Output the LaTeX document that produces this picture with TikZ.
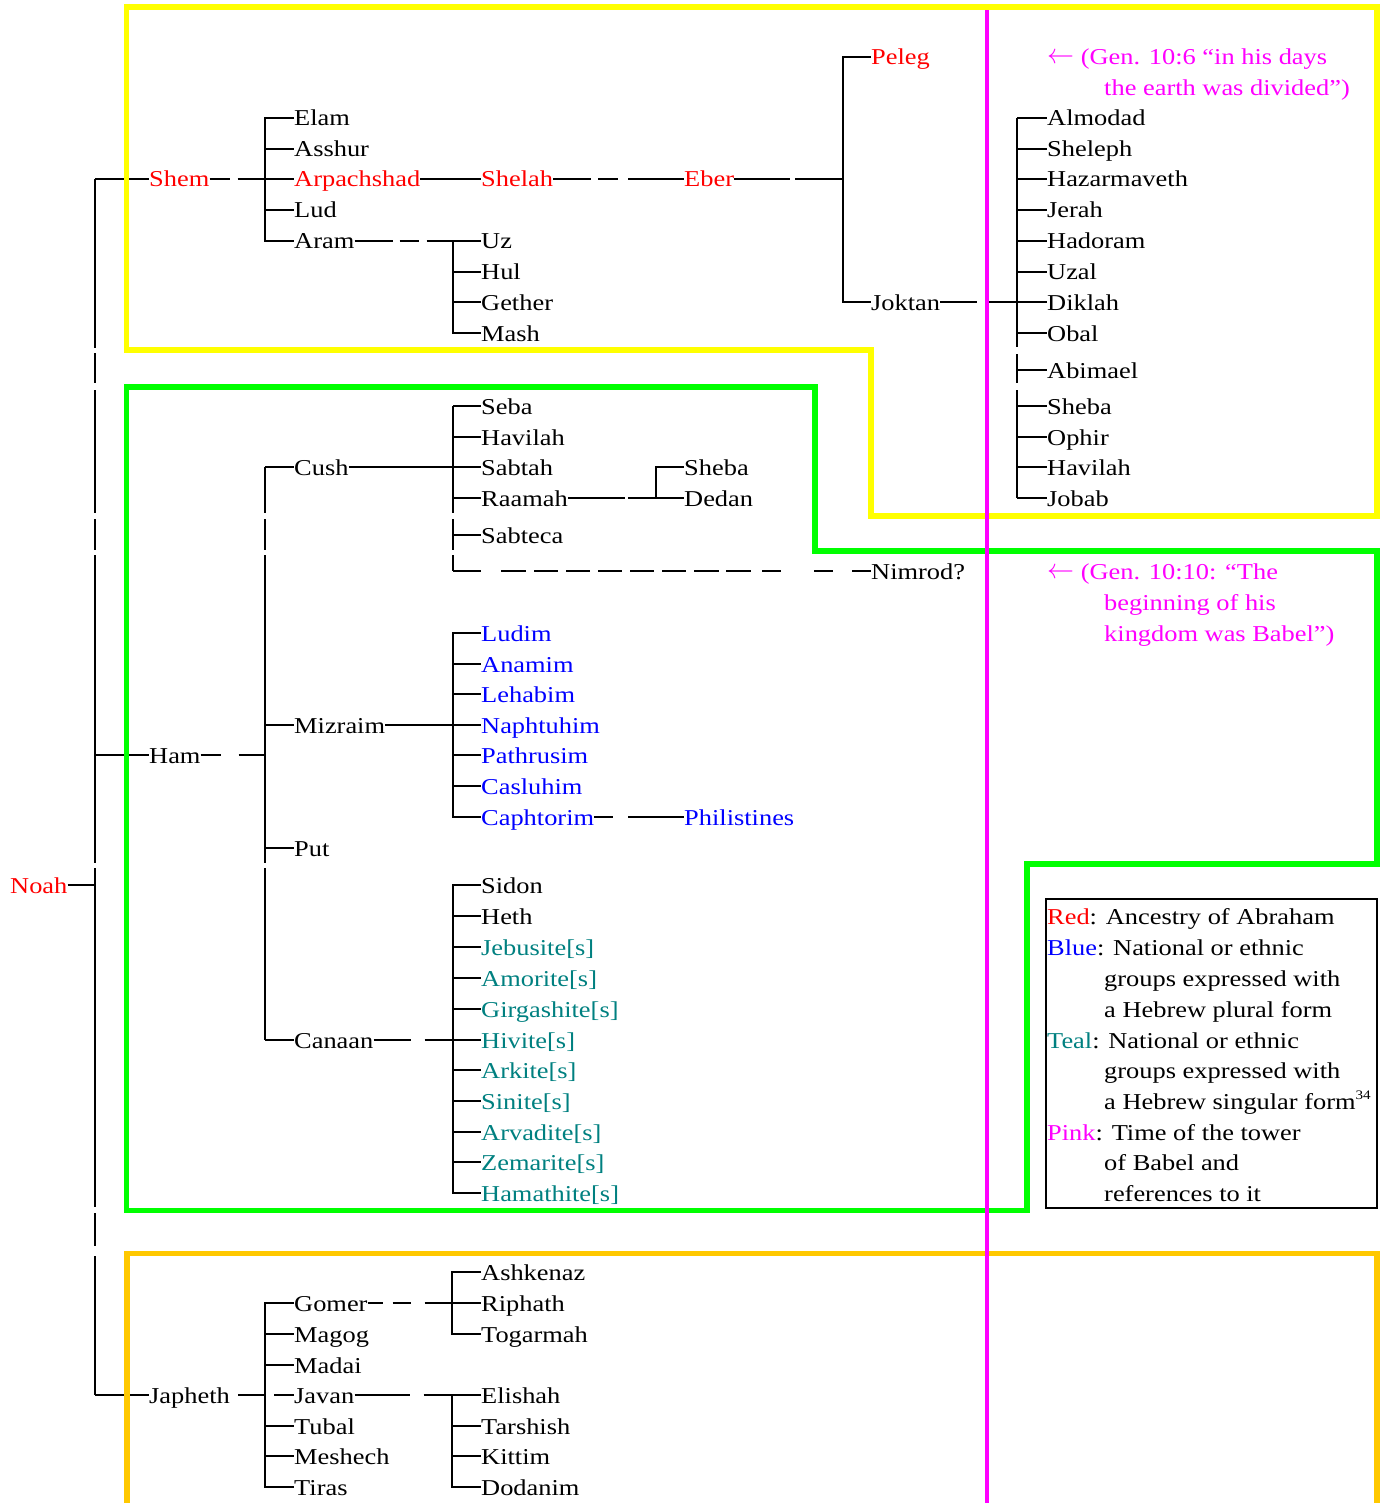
\documentclass[tikz,border=0pt]{standalone}
\usepackage{fontspec}
\setmainfont{Liberation Serif}[FakeStretch=1.163]
\definecolor{cRed}{RGB}{255,0,0}
\definecolor{cBlue}{RGB}{0,0,255}
\definecolor{cTeal}{RGB}{0,128,128}
\definecolor{cPink}{RGB}{255,0,255}
\definecolor{cYellow}{RGB}{255,255,0}
\definecolor{cGreen}{RGB}{0,255,0}
\definecolor{cOrange}{RGB}{255,200,0}
\newcommand{\larr}{\raisebox{1pt}{\scalebox{1.3}[1.35]{$\leftarrow$}}}
\begin{document}
\begin{tikzpicture}[x=1pt,y=-1pt,
  font=\fontsize{22.7}{30.6}\selectfont,
  lbl/.style={anchor=west,inner sep=0pt,text height=16pt,text depth=0pt},
  rd/.style={lbl,text=cRed},
  bl/.style={lbl,text=cBlue},
  tl/.style={lbl,text=cTeal},
  pk/.style={lbl,text=cPink},
  tree/.style={line width=1.8pt,black},
  frame/.style={line width=5.5pt,line join=miter}]
\useasboundingbox (0,0) rectangle (1383,1503);

% ---------- generation 0/1 ----------
\node[rd] (noah) at (10,885) {Noah};
\node[rd] (shem) at (149,179) {Shem};
\node[lbl] (ham) at (149,755) {Ham};
\node[lbl] (japheth) at (149,1395) {Japheth};
\coordinate (trunk) at (95,0);

% ---------- Shem ----------
\coordinate (shembar) at (265,0);
\node[lbl] (elam) at (294,118) {Elam};
\node[lbl] (asshur) at (294,149) {Asshur};
\node[rd] (arpachshad) at (294,179) {Arpachshad};
\node[lbl] (lud) at (294,210) {Lud};
\node[lbl] (aram) at (294,241) {Aram};
\node[rd] (shelah) at (481,179) {Shelah};
\node[rd] (eber) at (684,179) {Eber};
\coordinate (eberbar) at (843,0);
\node[rd] (peleg) at (871,57) {Peleg};
\node[lbl] (joktan) at (871,302) {Joktan};
\coordinate (arambar) at (453,0);
\node[lbl] (uz) at (481,241) {Uz};
\node[lbl] (hul) at (481,272) {Hul};
\node[lbl] (gether) at (481,302) {Gether};
\node[lbl] (mash) at (481,333) {Mash};
\coordinate (joktanbar) at (1017,0);
\node[lbl] (almodad) at (1047,118) {Almodad};
\node[lbl] (sheleph) at (1047,149) {Sheleph};
\node[lbl] (hazarmaveth) at (1047,179) {Hazarmaveth};
\node[lbl] (jerah) at (1047,210) {Jerah};
\node[lbl] (hadoram) at (1047,241) {Hadoram};
\node[lbl] (uzal) at (1047,272) {Uzal};
\node[lbl] (diklah) at (1047,302) {Diklah};
\node[lbl] (obal) at (1047,333) {Obal};
\node[lbl] (abimael) at (1047,370) {Abimael};
\node[lbl] (shebaJ) at (1047,406) {Sheba};
\node[lbl] (ophir) at (1047,437) {Ophir};
\node[lbl] (havilahJ) at (1047,467) {Havilah};
\node[lbl] (jobab) at (1047,498) {Jobab};

\node[pk] (note1a) at (1047,57) {\larr{} (Gen. 10:6 “in his days};
\node[pk] (note1b) at (1104,88) {the earth was divided”)};

% ---------- Ham ----------
\coordinate (hambar) at (265,0);
\node[lbl] (cush) at (294,467) {Cush};
\node[lbl] (mizraim) at (294,725) {Mizraim};
\node[lbl] (put) at (294,848) {Put};
\node[lbl] (canaan) at (294,1040) {Canaan};
\coordinate (cushbar) at (453,0);
\node[lbl] (seba) at (481,406) {Seba};
\node[lbl] (havilahC) at (481,437) {Havilah};
\node[lbl] (sabtah) at (481,467) {Sabtah};
\node[lbl] (raamah) at (481,498) {Raamah};
\node[lbl] (sabteca) at (481,535) {Sabteca};
\node[lbl] (nimrod) at (871,571) {Nimrod?};
\coordinate (raamahbar) at (656,0);
\node[lbl] (shebaR) at (684,467) {Sheba};
\node[lbl] (dedan) at (684,498) {Dedan};

\node[pk] (note2a) at (1047,571) {\larr{} (Gen. 10:10: “The};
\node[pk] (note2b) at (1104,602) {beginning of his};
\node[pk] (note2c) at (1104,633) {kingdom was Babel”)};

\coordinate (mizbar) at (453,0);
\node[bl] (ludim) at (481,633) {Ludim};
\node[bl] (anamim) at (481,664) {Anamim};
\node[bl] (lehabim) at (481,694) {Lehabim};
\node[bl] (naphtuhim) at (481,725) {Naphtuhim};
\node[bl] (pathrusim) at (481,755) {Pathrusim};
\node[bl] (casluhim) at (481,786) {Casluhim};
\node[bl] (caphtorim) at (481,817) {Caphtorim};
\node[bl] (philistines) at (684,817) {Philistines};

\coordinate (canbar) at (453,0);
\node[lbl] (sidon) at (481,885) {Sidon};
\node[lbl] (heth) at (481,916) {Heth};
\node[tl] (jebusite) at (481,947) {Jebusite[s]};
\node[tl] (amorite) at (481,978) {Amorite[s]};
\node[tl] (girgashite) at (481,1009) {Girgashite[s]};
\node[tl] (hivite) at (481,1040) {Hivite[s]};
\node[tl] (arkite) at (481,1070) {Arkite[s]};
\node[tl] (sinite) at (481,1101) {Sinite[s]};
\node[tl] (arvadite) at (481,1132) {Arvadite[s]};
\node[tl] (zemarite) at (481,1162) {Zemarite[s]};
\node[tl] (hamathite) at (481,1193) {Hamathite[s]};

% ---------- Japheth ----------
\coordinate (japhbar) at (265,0);
\node[lbl] (gomer) at (294,1303) {Gomer};
\node[lbl] (magog) at (294,1334) {Magog};
\node[lbl] (madai) at (294,1365) {Madai};
\node[lbl] (javan) at (294,1395) {Javan};
\node[lbl] (tubal) at (294,1426) {Tubal};
\node[lbl] (meshech) at (294,1456) {Meshech};
\node[lbl] (tiras) at (294,1487) {Tiras};
\coordinate (gomerbar) at (452,0);
\node[lbl] (ashkenaz) at (481,1272) {Ashkenaz};
\node[lbl] (riphath) at (481,1303) {Riphath};
\node[lbl] (togarmah) at (481,1334) {Togarmah};
\coordinate (javanbar) at (452,0);
\node[lbl] (elishah) at (481,1395) {Elishah};
\node[lbl] (tarshish) at (481,1426) {Tarshish};
\node[lbl] (kittim) at (481,1456) {Kittim};
\node[lbl] (dodanim) at (481,1487) {Dodanim};

% ---------- legend ----------
\node[lbl] (lg1) at (1047,916) {\textcolor{cRed}{Red}: Ancestry of Abraham};
\node[lbl] (lg2) at (1047,947) {\textcolor{cBlue}{Blue}: National or ethnic};
\node[lbl] (lg3) at (1104,978) {groups expressed with};
\node[lbl] (lg4) at (1104,1009) {a Hebrew plural form};
\node[lbl] (lg5) at (1047,1040) {\textcolor{cTeal}{Teal}: National or ethnic};
\node[lbl] (lg6) at (1104,1070) {groups expressed with};
\node[lbl] (lg7) at (1104,1101) {a Hebrew singular form\raisebox{10pt}{\fontsize{13}{13}\selectfont 34}};
\node[lbl] (lg8) at (1047,1132) {\textcolor{cPink}{Pink}: Time of the tower};
\node[lbl] (lg9) at (1104,1162) {of Babel and};
\node[lbl] (lg10) at (1104,1193) {references to it};
\draw[line width=1.5pt] (1046,899) rectangle (1377,1208);

% ---------- connectors ----------
% trunk
\draw[tree] (noah.east) -- (noah.east -| trunk);
\draw[tree,dash pattern=on 169pt off 5pt on 30pt off 7pt on 123pt off 6pt on 31pt off 5pt on 308pt off 5pt on 339pt off 6pt on 33pt off 10pt on 300pt off 1pt]
  (shem.west -| trunk) -- (japheth.west -| trunk);
\foreach \n in {shem,ham,japheth} \draw[tree] (\n.west -| trunk) -- (\n.west);

% Shem family
\draw[tree,dash pattern=on 20pt off 8pt on 100pt off 1pt] (shem.east) -- (shem.east -| shembar);
\draw[tree] (elam.west) -| (aram.west -| shembar) -- (aram.west);
\foreach \n in {asshur,arpachshad,lud} \draw[tree] (\n.west -| shembar) -- (\n.west);
\draw[tree] (arpachshad.east) -- (shelah.west);
\draw[tree,dash pattern=on 38pt off 7pt on 20pt off 10pt on 100pt off 1pt] (shelah.east) -- (eber.west);
\draw[tree,dash pattern=on 56pt off 5pt on 100pt off 1pt] (eber.east) -- (eber.east -| eberbar);
\draw[tree] (peleg.west) -| (joktan.west -| eberbar) -- (joktan.west);
\draw[tree,dash pattern=on 38pt off 7pt on 19pt off 8pt on 100pt off 1pt] (aram.east) -- (uz.west);
\draw[tree] (uz.west -| arambar) |- (mash.west);
\foreach \n in {hul,gether} \draw[tree] (\n.west -| arambar) -- (\n.west);
\draw[tree,dash pattern=on 37pt off 12pt on 100pt off 1pt] (joktan.east) -- (diklah.west);
\draw[tree,dash pattern=on 229pt off 7pt on 29pt off 7pt on 300pt off 1pt] (almodad.west -| joktanbar) -- (jobab.west -| joktanbar);
\foreach \n in {almodad,sheleph,hazarmaveth,jerah,hadoram,uzal,obal,abimael,shebaJ,ophir,havilahJ,jobab}
  \draw[tree] (\n.west -| joktanbar) -- (\n.west);

% Ham family
\draw[tree,dash pattern=on 20pt off 18pt on 100pt off 1pt] (ham.east) -- (ham.east -| hambar);
\draw[tree,dash pattern=on 46pt off 6pt on 31pt off 5pt on 308pt off 5pt on 300pt off 1pt] (cush.west -| hambar) -- (canaan.west -| hambar);
\foreach \n in {cush,mizraim,put,canaan} \draw[tree] (\n.west -| hambar) -- (\n.west);
\draw[tree] (cush.east) -- (sabtah.west);
\draw[tree,dash pattern=on 107pt off 6pt on 31pt off 5pt on 100pt off 1pt] (seba.west -| cushbar) -- (nimrod.west -| cushbar);
\foreach \n in {seba,havilahC,raamah,sabteca} \draw[tree] (\n.west -| cushbar) -- (\n.west);
\draw[tree,dash pattern=on 28pt off 20pt on 25pt off 8pt on 24pt off 8pt on 24pt off 8pt on 24pt off 8pt on 24pt off 8pt on 24pt off 8pt on 25pt off 7pt on 25pt off 11pt on 19pt off 33pt on 19pt off 19pt on 40pt off 1pt]
  (nimrod.west -| cushbar) -- (nimrod.west);
\draw[tree,dash pattern=on 57pt off 3pt on 100pt off 1pt] (raamah.east) -- (dedan.west);
\draw[tree] (shebaR.west) -| (dedan.west -| raamahbar);
\draw[tree] (mizraim.east) -- (naphtuhim.west);
\draw[tree] (ludim.west) -| (caphtorim.west -| mizbar) -- (caphtorim.west);
\foreach \n in {anamim,lehabim,pathrusim,casluhim} \draw[tree] (\n.west -| mizbar) -- (\n.west);
\draw[tree,dash pattern=on 19pt off 15pt on 100pt off 1pt] (caphtorim.east) -- (philistines.west);
\draw[tree,dash pattern=on 37pt off 14pt on 100pt off 1pt] (canaan.east) -- (hivite.west);
\draw[tree] (sidon.west) -| (hamathite.west -| canbar) -- (hamathite.west);
\foreach \n in {heth,jebusite,amorite,girgashite,arkite,sinite,arvadite,zemarite} \draw[tree] (\n.west -| canbar) -- (\n.west);

% Japheth family
\draw[tree,dash pattern=on 28pt off 8pt,dash phase=28pt] (japheth.east) -- (javan.west);
\draw[tree] (gomer.west) -| (tiras.west -| japhbar) -- (tiras.west);
\foreach \n in {magog,madai,tubal,meshech} \draw[tree] (\n.west -| japhbar) -- (\n.west);
\draw[tree,dash pattern=on 15pt off 10pt on 18pt off 14pt on 100pt off 1pt] (gomer.east) -- (riphath.west);
\draw[tree] (ashkenaz.west) -| (togarmah.west -| gomerbar) -- (togarmah.west);
\draw[tree,dash pattern=on 55pt off 14pt on 100pt off 1pt] (javan.east) -- (elishah.west);
\draw[tree] (elishah.west) -| (dodanim.west -| javanbar) -- (dodanim.west);
\foreach \n in {tarshish,kittim} \draw[tree] (\n.west -| javanbar) -- (\n.west);

% ---------- frames ----------
\draw[frame,cYellow] (126.5,7) -- (1377,7) -- (1377,516) -- (871,516) -- (871,350) -- (126.5,350) -- cycle;
\draw[frame,cGreen] (126.5,387) -- (815,387) -- (815,551) -- (1377,551) -- (1377,864) -- (1027,864) -- (1027,1210.5) -- (126.5,1210.5) -- cycle;
\draw[frame,cOrange] (127,1510) -- (127,1253.5) -- (1377,1253.5) -- (1377,1510);
\draw[line width=4pt,cPink] (987,10) -- (987,1503);
\end{tikzpicture}
\end{document}
